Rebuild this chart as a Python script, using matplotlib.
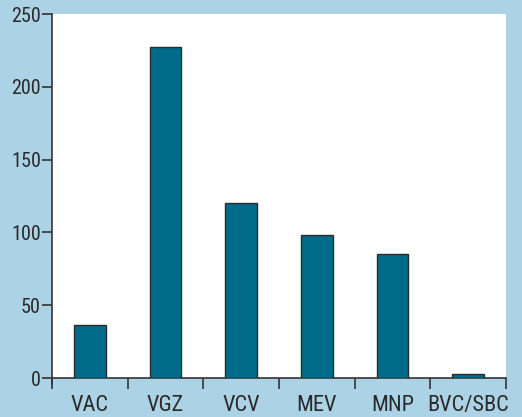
import matplotlib
matplotlib.use("Agg")
import matplotlib.pyplot as plt
from matplotlib import font_manager as fm
import numpy as np

categories = ["VAC", "VGZ", "VCV", "MEV", "MNP", "BVC/SBC"]
values = [36.5, 227, 120, 98.5, 85.5, 2.5]
yticks = [0, 50, 100, 150, 200, 250]

names = {f.name for f in fm.fontManager.ttflist}
fam = "DejaVu Sans"
for cand in ["Liberation Sans Narrow", "Arial Narrow", "Roboto Condensed", "Archivo Narrow"]:
    if cand in names:
        fam = cand
        break
plt.rcParams['font.family'] = [fam, 'DejaVu Sans']

bg = "#acd3e5"
fig = plt.figure(figsize=(5.22, 4.17), dpi=100, facecolor=bg)
ax = fig.add_axes([52/522, 1-378/417, (506-52)/522, (378-14)/417])
ax.set_facecolor("white")

x = np.arange(len(categories))
ax.bar(x, values, width=0.42, color="#006b8a", edgecolor="#2b2b2b", linewidth=1.0, zorder=3)

ax.set_xlim(-0.5, len(categories) - 0.5)
ax.set_ylim(0, 250)
ax.set_yticks(yticks)
ax.set_yticklabels([str(v) for v in yticks], fontsize=14.5, color="#2a2a2a")
ax.set_xticks(np.arange(len(categories) + 1) - 0.5)
ax.set_xticklabels([])
ax.set_xticks(x, minor=True)
ax.set_xticklabels(categories, minor=True, fontsize=16, color="#2a2a2a")
ax.tick_params(axis='x', which='minor', length=0, pad=12)
ax.tick_params(axis='x', which='major', length=8, width=1.2, color="#333333", direction='out')
ax.tick_params(axis='y', length=7, width=1.2, color="#333333", pad=1)

for s in ["top", "right"]:
    ax.spines[s].set_visible(False)
for s in ["left", "bottom"]:
    ax.spines[s].set_color("#333333")
    ax.spines[s].set_linewidth(1.2)
ax.spines["left"].set_bounds(-4, 250)

fig.savefig("out.png", dpi=100, facecolor=bg)
